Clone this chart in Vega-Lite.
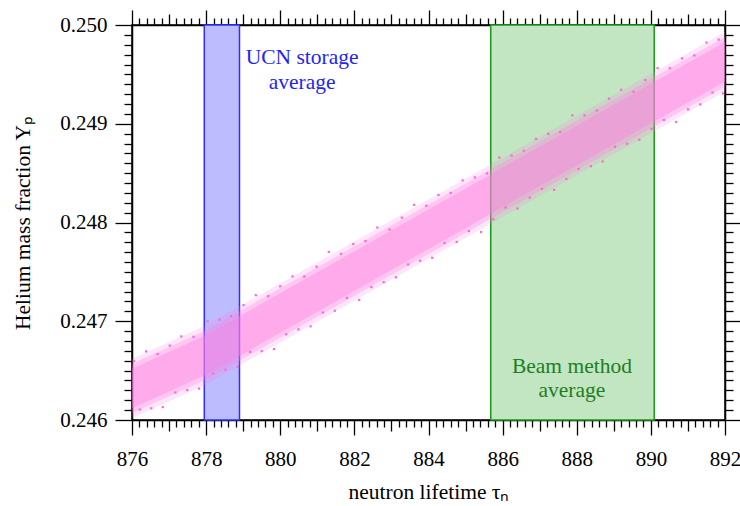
{
  "$schema": "https://vega.github.io/schema/vega-lite/v6.json",
  "width": 593,
  "height": 395,
  "autosize": {"type": "none"},
  "padding": {"left": 132, "top": 25, "right": 15, "bottom": 86},
  "background": "white",
  "config": {
    "view": {"stroke": "black", "strokeWidth": 1.5},
    "font": "Liberation Serif",
    "axis": {
      "grid": false,
      "domainColor": "black",
      "domainWidth": 1.5,
      "tickColor": "black",
      "tickWidth": 1.3,
      "labelColor": "black",
      "titleColor": "black",
      "labelFont": "Liberation Serif",
      "titleFont": "Liberation Serif",
      "labelFontSize": 21,
      "titleFontSize": 21.5,
      "titleFontWeight": "normal",
      "labelOverlap": false,
      "labelBound": false,
      "labelFlush": false
    }
  },
  "datasets": {
    "beam": [{"lo": 885.68, "hi": 890.09}],
    "ucn": [{"lo": 877.95, "hi": 878.9}],
    "band": [
      {"tau": 876, "coreLo": 0.24612, "coreHi": 0.24652, "midLo": 0.24607, "midHi": 0.24657, "outLo": 0.24602, "outHi": 0.24662},
      {"tau": 878, "coreLo": 0.24646, "coreHi": 0.24686, "midLo": 0.24641, "midHi": 0.24691, "outLo": 0.24636, "outHi": 0.24696},
      {"tau": 884, "coreLo": 0.247732, "coreHi": 0.248132, "midLo": 0.247682, "midHi": 0.248182, "outLo": 0.247632, "outHi": 0.248232},
      {"tau": 892, "coreLo": 0.249428, "coreHi": 0.249828, "midLo": 0.249378, "midHi": 0.249878, "outLo": 0.249328, "outHi": 0.249928}
    ],
    "pts": [
      {"tau": 876.05, "Yp": 0.246598}, {"tau": 876.21, "Yp": 0.246106}, {"tau": 876.38, "Yp": 0.246695},
      {"tau": 876.52, "Yp": 0.246118}, {"tau": 876.69, "Yp": 0.246667}, {"tau": 876.83, "Yp": 0.246131},
      {"tau": 877.02, "Yp": 0.246753}, {"tau": 877.17, "Yp": 0.246279}, {"tau": 877.33, "Yp": 0.246846},
      {"tau": 877.49, "Yp": 0.246303}, {"tau": 877.66, "Yp": 0.246842}, {"tau": 877.81, "Yp": 0.246318},
      {"tau": 878.04, "Yp": 0.246999}, {"tau": 878.19, "Yp": 0.24647}, {"tau": 878.36, "Yp": 0.247016},
      {"tau": 878.52, "Yp": 0.24651}, {"tau": 878.67, "Yp": 0.247052}, {"tau": 878.85, "Yp": 0.24654},
      {"tau": 879.01, "Yp": 0.247164}, {"tau": 879.18, "Yp": 0.24669}, {"tau": 879.34, "Yp": 0.247264},
      {"tau": 879.5, "Yp": 0.246698}, {"tau": 879.67, "Yp": 0.247254}, {"tau": 879.83, "Yp": 0.246718},
      {"tau": 880.0, "Yp": 0.247354}, {"tau": 880.16, "Yp": 0.246868}, {"tau": 880.33, "Yp": 0.247454},
      {"tau": 880.49, "Yp": 0.246918}, {"tau": 880.65, "Yp": 0.247452}, {"tau": 880.82, "Yp": 0.246948},
      {"tau": 880.98, "Yp": 0.247552}, {"tau": 881.15, "Yp": 0.247088}, {"tau": 881.31, "Yp": 0.247702},
      {"tau": 881.47, "Yp": 0.247106}, {"tau": 881.64, "Yp": 0.247682}, {"tau": 881.8, "Yp": 0.247236},
      {"tau": 881.97, "Yp": 0.247782}, {"tau": 882.13, "Yp": 0.247216}, {"tau": 882.3, "Yp": 0.247812},
      {"tau": 882.46, "Yp": 0.247346}, {"tau": 882.62, "Yp": 0.247949}, {"tau": 882.79, "Yp": 0.247396},
      {"tau": 882.95, "Yp": 0.247929}, {"tau": 883.12, "Yp": 0.247445}, {"tau": 883.28, "Yp": 0.248049},
      {"tau": 883.45, "Yp": 0.247575}, {"tau": 883.61, "Yp": 0.248179}, {"tau": 883.77, "Yp": 0.247613},
      {"tau": 883.94, "Yp": 0.248169}, {"tau": 884.1, "Yp": 0.247643}, {"tau": 884.27, "Yp": 0.248279},
      {"tau": 884.43, "Yp": 0.247793}, {"tau": 884.6, "Yp": 0.248299}, {"tau": 884.76, "Yp": 0.247803},
      {"tau": 884.92, "Yp": 0.248427}, {"tau": 885.09, "Yp": 0.247913}, {"tau": 885.25, "Yp": 0.248457},
      {"tau": 885.42, "Yp": 0.247903}, {"tau": 885.58, "Yp": 0.248497}, {"tau": 885.75, "Yp": 0.248033},
      {"tau": 885.91, "Yp": 0.248657}, {"tau": 886.08, "Yp": 0.248153}, {"tau": 886.24, "Yp": 0.248677},
      {"tau": 886.4, "Yp": 0.248141}, {"tau": 886.57, "Yp": 0.248727}, {"tau": 886.73, "Yp": 0.248251},
      {"tau": 886.9, "Yp": 0.248847}, {"tau": 887.06, "Yp": 0.248341}, {"tau": 887.23, "Yp": 0.248897},
      {"tau": 887.39, "Yp": 0.248331}, {"tau": 887.55, "Yp": 0.248915}, {"tau": 887.72, "Yp": 0.248441},
      {"tau": 887.88, "Yp": 0.249085}, {"tau": 888.05, "Yp": 0.248541}, {"tau": 888.21, "Yp": 0.249085},
      {"tau": 888.38, "Yp": 0.248571}, {"tau": 888.54, "Yp": 0.249135}, {"tau": 888.7, "Yp": 0.248618},
      {"tau": 888.87, "Yp": 0.249254}, {"tau": 889.03, "Yp": 0.248768}, {"tau": 889.2, "Yp": 0.249344},
      {"tau": 889.36, "Yp": 0.248798}, {"tau": 889.53, "Yp": 0.249324}, {"tau": 889.69, "Yp": 0.248838},
      {"tau": 889.85, "Yp": 0.249442}, {"tau": 890.02, "Yp": 0.248948}, {"tau": 890.18, "Yp": 0.249562},
      {"tau": 890.35, "Yp": 0.249038}, {"tau": 890.51, "Yp": 0.249562}, {"tau": 890.68, "Yp": 0.249018},
      {"tau": 890.84, "Yp": 0.249662}, {"tau": 891.0, "Yp": 0.249146}, {"tau": 891.17, "Yp": 0.249692},
      {"tau": 891.33, "Yp": 0.249196}, {"tau": 891.5, "Yp": 0.249822}, {"tau": 891.66, "Yp": 0.249316},
      {"tau": 891.83, "Yp": 0.249852}, {"tau": 891.95, "Yp": 0.249307}
    ],
    "ucnLabel": [
      {"tau": 880.59, "Yp": 0.249666, "line": "UCN storage"},
      {"tau": 880.59, "Yp": 0.249413, "line": "average"}
    ],
    "beamLabel": [
      {"tau": 887.87, "Yp": 0.246537, "line": "Beam method"},
      {"tau": 887.87, "Yp": 0.246294, "line": "average"}
    ]
  },
  "layer": [
    {
      "data": {"name": "beam"},
      "mark": {"type": "rect", "fill": "#c2e6c2", "stroke": "#1a9a1a", "strokeWidth": 1.5},
      "encoding": {
        "x": {
          "field": "lo", "type": "quantitative",
          "scale": {"domain": [876, 892], "nice": false, "zero": false},
          "axis": {
            "orient": "bottom",
            "tickCount": 80,
            "title": "neutron lifetime τₙ",
            "labelExpr": "abs(datum.value - 2*round(datum.value/2)) < 0.01 ? format(datum.value, 'd') : ''",
            "tickSize": {"condition": [
              {"test": "abs(datum.value - 2*round(datum.value/2)) < 0.01", "value": 15},
              {"test": "abs(datum.value - round(datum.value)) < 0.01", "value": 11}
            ], "value": 7},
            "labelPadding": 13,
            "titlePadding": 12
          }
        },
        "x2": {"field": "hi"}
      }
    },
    {
      "data": {"name": "ucn"},
      "mark": {"type": "rect", "fill": "#bcbcff", "stroke": "#2e2eff", "strokeWidth": 1.5},
      "encoding": {
        "x": {
          "field": "lo", "type": "quantitative",
          "scale": {"domain": [876, 892], "nice": false, "zero": false},
          "axis": {
            "orient": "top",
            "tickCount": 80,
            "labels": false,
            "title": null,
            "tickSize": {"condition": [
              {"test": "abs(datum.value - 2*round(datum.value/2)) < 0.01", "value": 15},
              {"test": "abs(datum.value - round(datum.value)) < 0.01", "value": 11}
            ], "value": 7}
          }
        },
        "x2": {"field": "hi"}
      }
    },
    {
      "data": {"name": "band"},
      "mark": {"type": "area", "fill": "#ff7fe2", "opacity": 0.2},
      "encoding": {
        "x": {"field": "tau", "type": "quantitative", "scale": {"domain": [876, 892], "nice": false, "zero": false}, "axis": null},
        "y": {
          "field": "outLo", "type": "quantitative",
          "scale": {"domain": [0.246, 0.25], "nice": false, "zero": false},
          "axis": {
            "orient": "left",
            "tickCount": 40,
            "title": "Helium mass fraction Yₚ",
            "labelExpr": "abs(datum.value*1000 - round(datum.value*1000)) < 0.01 ? format(datum.value, '.3f') : ''",
            "tickSize": {"condition": {"test": "abs(datum.value*1000 - round(datum.value*1000)) < 0.01", "value": 17}, "value": 8},
            "labelPadding": 8,
            "titlePadding": 25
          }
        },
        "y2": {"field": "outHi"}
      }
    },
    {
      "data": {"name": "band"},
      "mark": {"type": "area", "fill": "#ff7fe2", "opacity": 0.3},
      "encoding": {
        "x": {"field": "tau", "type": "quantitative", "axis": null},
        "y": {"field": "midLo", "type": "quantitative", "axis": null},
        "y2": {"field": "midHi"}
      }
    },
    {
      "data": {"name": "band"},
      "mark": {"type": "area", "fill": "#ff7fe2", "opacity": 0.4},
      "encoding": {
        "x": {"field": "tau", "type": "quantitative", "axis": null},
        "y": {"field": "coreLo", "type": "quantitative", "axis": null},
        "y2": {"field": "coreHi"}
      }
    },
    {
      "data": {"name": "pts"},
      "mark": {"type": "square", "size": 5, "color": "#ff66dd", "opacity": 1},
      "encoding": {
        "x": {"field": "tau", "type": "quantitative", "scale": {"domain": [876, 892], "nice": false, "zero": false}, "axis": null},
        "y": {
          "field": "Yp", "type": "quantitative",
          "scale": {"domain": [0.246, 0.25], "nice": false, "zero": false},
          "axis": {
            "orient": "right",
            "tickCount": 40,
            "labels": false,
            "title": null,
            "tickSize": {"condition": {"test": "abs(datum.value*1000 - round(datum.value*1000)) < 0.01", "value": 17}, "value": 8}
          }
        }
      }
    },
    {
      "data": {"name": "ucnLabel"},
      "mark": {"type": "text", "color": "#2525f0", "font": "Liberation Serif", "fontSize": 21.5, "align": "center", "baseline": "middle"},
      "encoding": {
        "x": {"field": "tau", "type": "quantitative", "axis": null},
        "y": {"field": "Yp", "type": "quantitative", "axis": null},
        "text": {"field": "line"}
      }
    },
    {
      "data": {"name": "beamLabel"},
      "mark": {"type": "text", "color": "#1e7e1e", "font": "Liberation Serif", "fontSize": 21.5, "align": "center", "baseline": "middle"},
      "encoding": {
        "x": {"field": "tau", "type": "quantitative", "axis": null},
        "y": {"field": "Yp", "type": "quantitative", "axis": null},
        "text": {"field": "line"}
      }
    }
  ],
  "resolve": {"axis": {"x": "independent", "y": "independent"}}
}
